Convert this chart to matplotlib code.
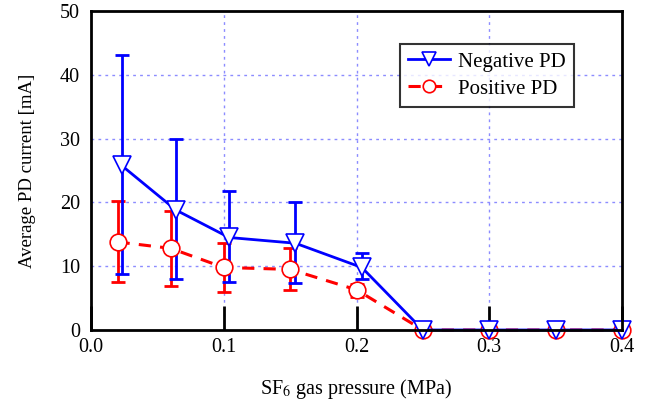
import numpy as np
import matplotlib.pyplot as plt

# data
neg_x = [0.023, 0.064, 0.104, 0.154, 0.204, 0.25, 0.30, 0.35, 0.40]
neg_y = [25.8, 18.8, 14.5, 13.6, 9.8, 0, 0, 0, 0]
neg_hi = [43.1, 29.9, 21.8, 20.0, 12.0, 0, 0, 0, 0]
neg_lo = [8.7, 8.0, 7.5, 7.3, 8.0, 0, 0, 0, 0]

pos_x = [0.020, 0.060, 0.100, 0.150, 0.200, 0.25, 0.30, 0.35, 0.40]
pos_y = [13.8, 12.8, 9.8, 9.5, 6.3, 0, 0, 0, 0]
pos_hi = [20.2, 18.6, 13.7, 12.8, 7.2, 0, 0, 0, 0]
pos_lo = [7.5, 6.9, 5.9, 6.2, 5.1, 0, 0, 0, 0]

xticks = [0.0, 0.1, 0.2, 0.3, 0.4]
yticks = [0, 10, 20, 30, 40, 50]

plt.rcParams['font.family'] = 'Liberation Serif'
plt.rcParams['mathtext.fontset'] = 'stix'

fig = plt.figure(figsize=(6.55, 4.08), dpi=100)
ax = fig.add_axes([91 / 655, 1 - 330 / 408, (622 - 91) / 655, (330 - 11) / 408])

# error bars (no line)
pos_err = [np.array(pos_y) - np.array(pos_lo), np.array(pos_hi) - np.array(pos_y)]
neg_err = [np.array(neg_y) - np.array(neg_lo), np.array(neg_hi) - np.array(neg_y)]
ax.errorbar(pos_x, pos_y, yerr=pos_err, fmt='none', ecolor='red', elinewidth=2,
            capsize=5, capthick=2, zorder=3)
ax.errorbar(neg_x, neg_y, yerr=neg_err, fmt='none', ecolor='blue', elinewidth=2,
            capsize=5, capthick=2, zorder=4)

ax.plot(pos_x, pos_y, color='red', linestyle=(0, (4, 3)), linewidth=2.2, marker='o',
        markersize=12, markerfacecolor='white', markeredgecolor='red', markeredgewidth=1.2,
        label='Positive PD', zorder=5, clip_on=False)
ax.plot(neg_x, neg_y, color='blue', linewidth=2, marker='v', markersize=13,
        markerfacecolor='white', markeredgecolor='blue', markeredgewidth=1.2,
        label='Negative PD', zorder=6, clip_on=False)

ax.set_xlim(0, 0.4)
ax.set_ylim(0, 50)
ax.set_xticks(xticks)
ax.set_xticklabels([f"{t:.1f}" for t in xticks])
ax.set_yticks(yticks)

# dotted grid
for gx in [0.1, 0.2, 0.3]:
    ax.axvline(gx, color='#8c8cff', linestyle=(0, (2, 3)), linewidth=1, zorder=1)
for gy in [10, 20, 30, 40]:
    ax.axhline(gy, color='#8c8cff', linestyle=(0, (2, 3)), linewidth=1, zorder=1)

ax.tick_params(axis='x', direction='in', length=17, width=2, labelsize=14.5, pad=6)
ax.tick_params(axis='y', length=0, labelsize=14.5, pad=8)
for s in ax.spines.values():
    s.set_linewidth(2)
    s.set_zorder(7)

ax.set_xlabel('SF$_6$ gas pressure (MPa)', fontsize=14.5, labelpad=14)
ax.set_ylabel('Average PD current [mA]', fontsize=13.5, labelpad=17)

handles, labels = ax.get_legend_handles_labels()
leg = ax.legend(handles[::-1], labels[::-1], loc='upper left', bbox_to_anchor=(0.582, 0.897),
                borderaxespad=0, fontsize=15, frameon=True, fancybox=False, edgecolor='black',
                handlelength=2.0, borderpad=0.4, labelspacing=0.35, markerscale=0.75,
                handletextpad=0.4)
leg.get_frame().set_linewidth(1.5)

fig.savefig('out.png', dpi=100)
